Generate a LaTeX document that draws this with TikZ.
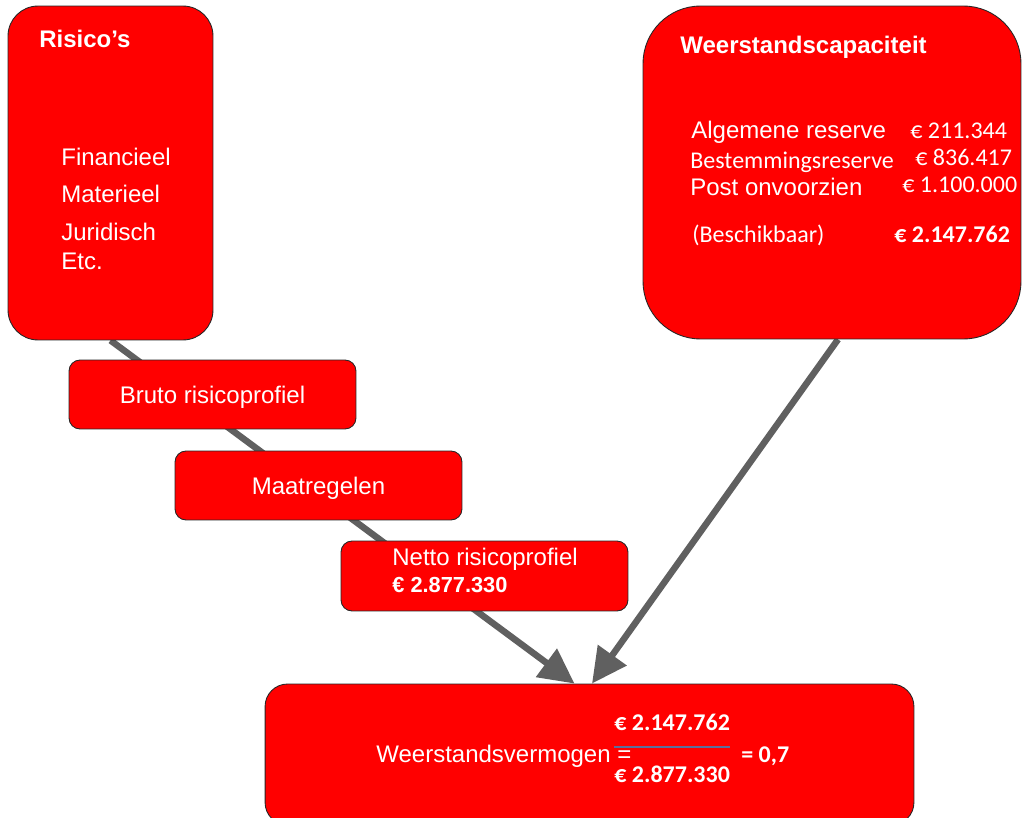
\documentclass[tikz,border=0pt]{standalone}
\usepackage{fontspec}
\setmainfont{Liberation Sans}
\newfontfamily\carlito{Carlito}
\usetikzlibrary{arrows.meta,backgrounds}
\definecolor{boxred}{HTML}{FF0000}
\definecolor{arrowgray}{HTML}{606060}
\definecolor{fracblue}{HTML}{5B6E9C}

\begin{document}
\begin{tikzpicture}[
  x=0.02cm, y=-0.02cm,
  redbox/.style={draw=black!85, line width=0.5pt, fill=boxred, text=white, inner sep=0pt},
  stagebox/.style={redbox, rounded corners=0.22cm, minimum width=5.74cm, minimum height=1.38cm, text height=9.8pt, text depth=0pt},
  txt/.style={anchor=base west, inner sep=0pt, text=white},
  flow/.style={-{Triangle[length=0.7cm, width=0.68cm]}, draw=arrowgray, line width=0.13cm},
  fracline/.style={draw=fracblue, line width=0.04cm},
  font=\fontsize{13.66pt}{16pt}\selectfont
]
\useasboundingbox (0,0) rectangle (1022,818);
\clip (0,0) rectangle (1022,818);

\node[redbox, rounded corners=0.6cm, minimum width=4.1cm, minimum height=6.68cm] (risico) at (110.5,173) {};
\node[txt] (risicotitle) at (39,48) {\bfseries Risico’s};
\node[txt] (fin) at (61,165) {Financieel};
\node[txt] (mat) at (61,202) {Materieel};
\node[txt] (jur) at (61,240) {Juridisch};
\node[txt] (etc) at (61,269) {Etc.};

\node[redbox, rounded corners=1.15cm, minimum width=7.56cm, minimum height=6.66cm] (capaciteit) at (832,172.5) {};
\node[txt] (captitle) at (680,53) {\bfseries Weerstandscapaciteit};
\node[txt] (alg) at (691,138) {Algemene reserve};
\node[txt] (algval) at (910,138) {\carlito € 211.344};
\node[txt] (best) at (690,168) {\carlito Bestemmingsreserve};
\node[txt] (bestval) at (915,165) {\carlito € 836.417};
\node[txt] (post) at (690,195) {Post onvoorzien};
\node[txt] (postval) at (902,192) {\carlito € 1.100.000};
\node[txt] (besch) at (692,242) {\carlito (Beschikbaar)};
\node[txt] (beschval) at (894,242) {\carlito\bfseries € 2.147.762};

\node[stagebox] (bruto) at (212.5,394.5) {Bruto risicoprofiel};
\node[stagebox] (maatregelen) at (318.5,485.5) {Maatregelen};
\node[stagebox, minimum height=1.4cm] (netto) at (484.5,576) {};
\node[txt] (nettotitle) at (392,565) {Netto risicoprofiel};
\node[txt] (nettoval) at (392,592) {\fontsize{12.4pt}{15pt}\selectfont\bfseries € 2.877.330};

\node[redbox, rounded corners=0.45cm, minimum width=12.98cm, minimum height=2.82cm] (ratio) at (589.5,754.5) {};
\node[txt] (ratiolabel) at (376,762) {Weerstandsvermogen =};
\node[txt] (teller) at (614,730) {\carlito\bfseries € 2.147.762};
\node[txt] (noemer) at (614,782) {\carlito\bfseries € 2.877.330};
\node[txt] (uitkomst) at (741,762) {\carlito\bfseries = 0,7};
\draw[fracline] ([yshift=-0.34cm]teller.base west) -- ([yshift=-0.34cm]teller.base east);

\begin{scope}[on background layer]
\fill[white] (0,0) rectangle (1022,818);
\draw[flow] (risico.south) -- ([xshift=-0.3cm]ratio.north);
\draw[flow] ([xshift=0.12cm]capaciteit.south) -- ([xshift=0.05cm]ratio.north);
\end{scope}
\end{tikzpicture}
\end{document}
